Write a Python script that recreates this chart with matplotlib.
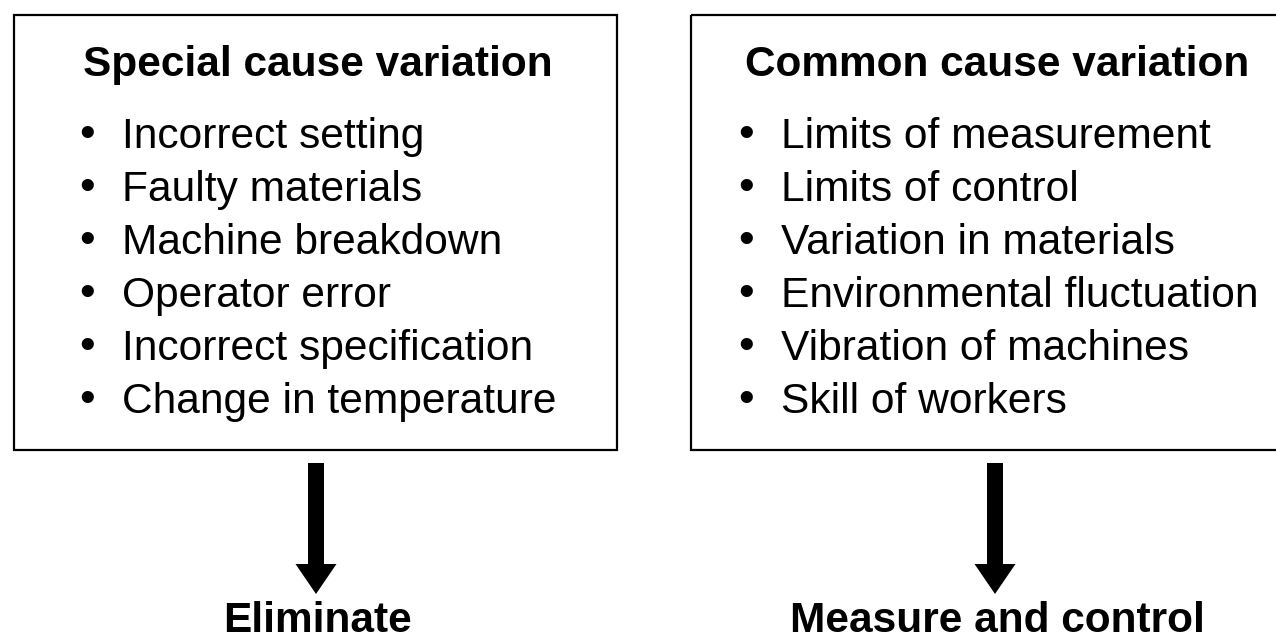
import matplotlib
matplotlib.use("Agg")
import matplotlib.pyplot as plt
from matplotlib.patches import Rectangle, FancyArrow

left_title = "Special cause variation"
left_items = ["Incorrect setting", "Faulty materials", "Machine breakdown",
              "Operator error", "Incorrect specification", "Change in temperature"]
right_title = "Common cause variation"
right_items = ["Limits of measurement", "Limits of control", "Variation in materials",
               "Environmental fluctuation", "Vibration of machines", "Skill of workers"]
outcomes = ["Eliminate", "Measure and control"]

W, H = 1276, 639
fig = plt.figure(figsize=(W / 100, H / 100), dpi=100)
ax = fig.add_axes([0, 0, 1, 1])
ax.set_xlim(0, W)
ax.set_ylim(H, 0)
ax.axis("off")

FONT = "Liberation Sans"
FS_ITEM = 30.6
FS_BOLD = 30.5

panels = [
    dict(box=(14, 15, 603, 435), cx=318, bx=87, tx=122, title=left_title,
         items=left_items, out=outcomes[0], ax_x=316),
    dict(box=(691, 15, 620, 435), cx=997, bx=746, tx=781, title=right_title,
         items=right_items, out=outcomes[1], ax_x=995),
]

for p in panels:
    x0, y0, w, h = p["box"]
    ax.add_patch(Rectangle((x0, y0), w, h, fill=False, lw=1.6, ec="black",
                           clip_on=False))
    ax.text(p["cx"], 76, p["title"], ha="center", va="baseline",
            fontsize=FS_BOLD, fontweight="bold", family=FONT)
    for i, item in enumerate(p["items"]):
        yb = 148 + i * 53
        ax.text(p["bx"], yb - 1, "\u2022", ha="center", va="baseline",
                fontsize=FS_ITEM * 1.05, family=FONT)
        ax.text(p["tx"], yb, item, ha="left", va="baseline",
                fontsize=FS_ITEM, family=FONT)
    ax.add_patch(FancyArrow(p["ax_x"], 463, 0, 131, width=16, head_width=41,
                            head_length=30, length_includes_head=True,
                            color="black", lw=0))
    ax.text(p["cx"], 632, p["out"], ha="center", va="baseline",
            fontsize=FS_BOLD, fontweight="bold", family=FONT)

fig.savefig("out.png", dpi=100)
